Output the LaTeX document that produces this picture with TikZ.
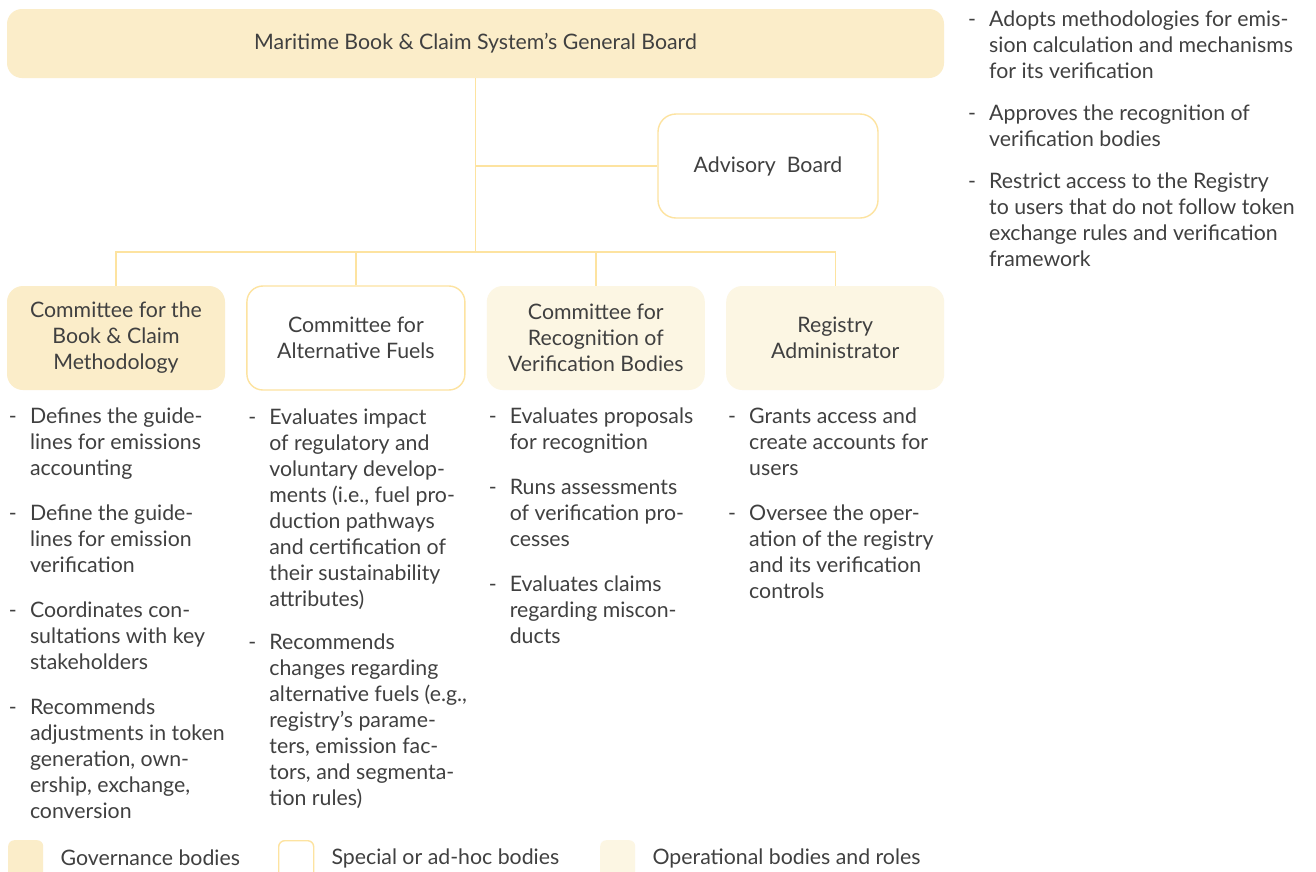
\documentclass[tikz,border=0pt]{standalone}
\usepackage{fontspec}
\setmainfont{Lato}
\usetikzlibrary{positioning}

\definecolor{govfill}{HTML}{FBEDC9}
\definecolor{opsfill}{HTML}{FCF6E3}
\definecolor{linkcol}{HTML}{FDE3A0}
\definecolor{txtcol}{HTML}{404040}

% dash list: dash in a fixed column, text after it
\newcommand{\dashlist}[1]{\begin{tabular}{@{}p{21pt}@{}l@{}}#1\end{tabular}}

\begin{document}
\begin{tikzpicture}[x=1pt, y=-1pt,
    every node/.style={text=txtcol, font=\fontsize{21.3}{26}\selectfont},
    body/.style={rounded corners=16pt, minimum width=218pt, minimum height=104pt, align=center, inner sep=0pt},
    gov/.style={body, fill=govfill},
    spc/.style={body, draw=linkcol, line width=1.4pt, fill=white},
    ops/.style={body, fill=opsfill},
    link/.style={draw=linkcol, line width=1.4pt},
    items/.style={anchor=north west, inner sep=0pt},
    key/.style={minimum width=35pt, minimum height=40pt, rounded corners=6pt, anchor=north west, inner sep=0pt},
    keytext/.style={right=17pt of #1, inner sep=0pt}]

    \fill[white] (0,0) rectangle (1316,871);
    \useasboundingbox (0,0) rectangle (1316,871);

    % board and advisory board
    \node[gov, minimum width=937pt, minimum height=69pt, rounded corners=15pt] (board) at (475.5,43.5) {Maritime Book \& Claim System's General Board};
    \node[spc, minimum width=220pt, rounded corners=18pt] (adv) at (768,166) {Advisory\ \ Board};

    % committees
    \node[gov] (cbm) at (116,338) {Committee for the\\Book \& Claim\\Methodology};
    \node[spc, right=21pt of cbm] (caf) {Committee for\\Alternative Fuels};
    \node[ops, right=21pt of caf] (crvb) {Committee for\\Recognition of\\Verification Bodies};
    \node[ops, right=21pt of crvb] (ra) {Registry\\Administrator};

    % connectors
    \coordinate (hub) at (475.5,252);
    \draw[link] (board.south) -- (hub);
    \draw[link] (board.south |- adv.west) -- (adv.west);
    \draw[link] (cbm.north) |- (hub) -| (ra.north);
    \draw[link] (caf.north) -- (caf.north |- hub);
    \draw[link] (crvb.north) -- (crvb.north |- hub);

    % tasks
    \node[items] (lboard) at (968,8) {\dashlist{
        - & Adopts methodologies for emis-\\
          & sion calculation and mechanisms\\
          & for its verification\\[16pt]
        - & Approves the recognition of\\
          & verification bodies\\[16pt]
        - & Restrict access to the Registry\\
          & to users that do not follow token\\
          & exchange rules and verification\\
          & framework}};
    \node[items, below right=15pt and 2pt of cbm.south west] (lcbm) {\dashlist{
        - & Defines the guide-\\
          & lines for emissions\\
          & accounting\\[19pt]
        - & Define the guide-\\
          & lines for emission\\
          & verification\\[19pt]
        - & Coordinates con-\\
          & sultations with key\\
          & stakeholders\\[19pt]
        - & Recommends\\
          & adjustments in token\\
          & generation, own-\\
          & ership, exchange,\\
          & conversion}};
    \node[items, below right=15pt and 2pt of caf.south west] (lcaf) {\dashlist{
        - & Evaluates impact\\
          & of regulatory and\\
          & voluntary develop-\\
          & ments (i.e., fuel pro-\\
          & duction pathways\\
          & and certification of\\
          & their sustainability\\
          & attributes)\\[17pt]
        - & Recommends\\
          & changes regarding\\
          & alternative fuels (e.g.,\\
          & registry's parame-\\
          & ters, emission fac-\\
          & tors, and segmenta-\\
          & tion rules)}};
    \node[items, below right=15pt and 2pt of crvb.south west] (lcrvb) {\dashlist{
        - & Evaluates proposals\\
          & for recognition\\[19pt]
        - & Runs assessments\\
          & of verification pro-\\
          & cesses\\[19pt]
        - & Evaluates claims\\
          & regarding miscon-\\
          & ducts}};
    \node[items, below right=15pt and 2pt of ra.south west] (lra) {\dashlist{
        - & Grants access and\\
          & create accounts for\\
          & users\\[19pt]
        - & Oversee the oper-\\
          & ation of the registry\\
          & and its verification\\
          & controls}};

    % legend
    \begin{scope}
        \clip (0,0) rectangle (1316,871);
        \node[key, fill=govfill] (kgov) at (8,840) {};
        \node[key, draw=linkcol, line width=1.4pt, fill=white] (kspc) at (278,840) {};
        \node[key, fill=opsfill] (kops) at (600,840) {};
    \end{scope}
    \node[keytext=kgov, yshift=2pt] (tgov) {Governance bodies};
    \node[keytext=kspc, yshift=2pt] (tspc) {Special or ad-hoc bodies};
    \node[keytext=kops, yshift=2pt] (tops) {Operational bodies and roles};
\end{tikzpicture}
\end{document}
